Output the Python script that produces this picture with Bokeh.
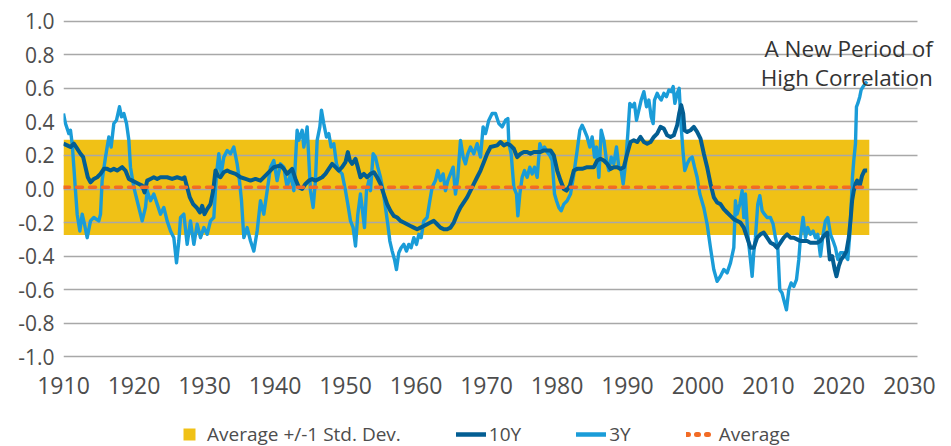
from bokeh.plotting import figure
from bokeh.layouts import column
from bokeh.models import (Range1d, FixedTicker, PrintfTickFormatter, Legend, LegendItem, Label,
                          BoxAnnotation)
from bokeh.embed import file_html
from bokeh.resources import INLINE

# ---------------- data ----------------
years_3y = [1910.00, 1910.28, 1910.76, 1910.99, 1911.23, 1911.47, 1911.70, 1911.94, 1912.32, 1912.65,
            1912.98, 1913.36, 1913.83, 1914.30, 1915.01, 1915.25, 1915.48, 1915.96, 1916.43, 1916.76,
            1917.14, 1917.52, 1917.94, 1918.23, 1918.56, 1918.94, 1919.27, 1919.50, 1919.98, 1920.45,
            1920.92, 1921.16, 1921.63, 1921.87, 1922.34, 1922.81, 1923.29, 1923.76, 1924.23, 1924.70,
            1925.18, 1925.65, 1926.03, 1926.36, 1926.60, 1927.07, 1927.54, 1928.01, 1928.49, 1928.96,
            1929.43, 1929.91, 1930.38, 1930.85, 1931.32, 1931.70, 1932.03, 1932.36, 1932.74, 1933.22,
            1933.69, 1934.16, 1934.63, 1934.96, 1935.25, 1935.58, 1936.05, 1936.53, 1937.00, 1937.47,
            1937.94, 1938.41, 1938.89, 1939.36, 1939.83, 1940.30, 1940.78, 1941.25, 1941.72, 1942.20,
            1942.67, 1943.14, 1943.38, 1943.85, 1944.09, 1944.56, 1945.03, 1945.41, 1945.74, 1945.98,
            1946.36, 1946.59, 1946.92, 1947.30, 1947.63, 1947.96, 1948.34, 1948.72, 1949.05, 1949.52,
            1950.00, 1950.33, 1950.71, 1951.08, 1951.42, 1951.75, 1952.12, 1952.36, 1952.69, 1952.98,
            1953.31, 1953.54, 1953.92, 1954.25, 1954.58, 1954.96, 1955.34, 1955.67, 1956.00, 1956.29,
            1956.62, 1956.95, 1957.23, 1957.56, 1957.89, 1958.27, 1958.65, 1958.98, 1959.31, 1959.69,
            1960.07, 1960.40, 1960.73, 1961.11, 1961.58, 1961.96, 1962.29, 1962.76, 1963.09, 1963.47,
            1963.85, 1964.18, 1964.51, 1964.89, 1965.27, 1965.60, 1965.93, 1966.31, 1966.69, 1967.02,
            1967.35, 1967.73, 1968.20, 1968.67, 1969.15, 1969.52, 1969.86, 1970.33, 1970.80, 1971.28,
            1971.75, 1972.22, 1972.70, 1973.03, 1973.17, 1973.50, 1973.88, 1974.26, 1974.45, 1974.73,
            1975.06, 1975.39, 1975.77, 1976.15, 1976.48, 1976.81, 1977.19, 1977.57, 1977.90, 1978.23,
            1978.61, 1978.99, 1979.32, 1979.65, 1979.93, 1980.26, 1980.59, 1980.97, 1981.44, 1981.92,
            1982.39, 1982.86, 1983.24, 1983.57, 1983.90, 1984.28, 1984.66, 1984.99, 1985.32, 1985.61,
            1985.94, 1986.27, 1986.65, 1987.02, 1987.36, 1987.69, 1988.06, 1988.44, 1988.77, 1989.10,
            1989.39, 1989.72, 1990.05, 1990.33, 1990.66, 1990.99, 1991.28, 1991.61, 1991.94, 1992.32,
            1992.70, 1993.03, 1993.36, 1993.64, 1993.83, 1994.21, 1994.45, 1994.78, 1995.16, 1995.53,
            1995.87, 1996.20, 1996.48, 1996.72, 1997.05, 1997.33, 1997.62, 1997.90, 1998.13, 1998.47,
            1998.84, 1999.18, 1999.51, 1999.88, 2000.26, 2000.82, 2001.30, 2001.77, 2002.24, 2002.71,
            2003.19, 2003.66, 2004.13, 2004.61, 2005.08, 2005.31, 2005.55, 2005.93, 2006.26, 2006.50,
            2006.73, 2007.06, 2007.44, 2007.68, 2007.91, 2008.15, 2008.48, 2008.77, 2009.10, 2009.43,
            2009.81, 2010.28, 2010.66, 2010.99, 2011.32, 2011.60, 2011.93, 2012.17, 2012.55, 2012.88,
            2013.21, 2013.59, 2013.97, 2014.30, 2014.53, 2014.91, 2015.24, 2015.57, 2015.95, 2016.33,
            2016.66, 2016.99, 2017.37, 2017.75, 2018.08, 2018.41, 2018.79, 2019.17, 2019.50, 2019.83,
            2020.21, 2020.59, 2020.92, 2021.25, 2021.53, 2021.72, 2021.91, 2022.10, 2022.34, 2022.48,
            2022.67, 2022.95, 2023.14, 2023.42, 2023.75, 2023.99]
corr_3y = [0.45, 0.39, 0.33, 0.35, 0.27, 0.13, -0.01, -0.15, -0.25, -0.15,
           -0.21, -0.29, -0.19, -0.17, -0.19, -0.15, 0.05, 0.19, 0.31, 0.25,
           0.39, 0.41, 0.49, 0.43, 0.45, 0.39, 0.29, 0.13, 0.01, -0.07,
           -0.15, -0.19, -0.11, -0.01, -0.07, -0.03, -0.09, -0.15, -0.11, -0.19,
           -0.25, -0.29, -0.44, -0.31, -0.17, -0.15, -0.33, -0.19, -0.33, -0.21,
           -0.29, -0.23, -0.27, -0.19, -0.17, 0.09, 0.21, 0.09, 0.19, 0.23,
           0.21, 0.25, 0.15, 0.05, -0.07, -0.29, -0.23, -0.31, -0.37, -0.25,
           -0.07, -0.15, -0.01, 0.13, 0.17, 0.05, 0.15, 0.13, 0.01, 0.09,
           -0.01, 0.35, 0.29, 0.35, 0.25, 0.37, -0.01, -0.11, 0.05, 0.29,
           0.37, 0.47, 0.39, 0.31, 0.33, 0.25, 0.27, 0.15, 0.11, 0.09,
           -0.01, -0.09, -0.19, -0.23, -0.34, -0.15, -0.03, -0.11, -0.23, -0.01,
           0.05, -0.01, 0.21, 0.19, 0.13, 0.07, -0.01, -0.11, -0.21, -0.31,
           -0.37, -0.42, -0.48, -0.38, -0.35, -0.33, -0.37, -0.33, -0.35, -0.29,
           -0.33, -0.27, -0.29, -0.19, -0.17, -0.07, 0.01, 0.05, 0.11, 0.05,
           0.09, -0.01, 0.05, 0.09, 0.13, -0.03, 0.07, 0.29, 0.19, 0.15,
           0.21, 0.25, 0.21, 0.27, 0.19, 0.37, 0.33, 0.41, 0.45, 0.45,
           0.39, 0.37, 0.41, 0.42, 0.27, 0.21, 0.01, -0.03, -0.16, -0.03,
           0.07, 0.11, 0.07, 0.13, 0.09, 0.13, 0.07, 0.27, 0.23, 0.25,
           0.22, 0.20, 0.17, -0.03, -0.07, -0.11, -0.13, -0.09, -0.07, -0.03,
           0.09, 0.23, 0.35, 0.38, 0.35, 0.31, 0.25, 0.31, 0.19, 0.25,
           0.07, 0.35, 0.29, 0.17, 0.11, 0.19, 0.15, 0.25, 0.13, 0.11,
           0.03, 0.15, 0.33, 0.51, 0.49, 0.51, 0.41, 0.47, 0.53, 0.58,
           0.49, 0.53, 0.43, 0.39, 0.53, 0.57, 0.55, 0.53, 0.57, 0.55,
           0.59, 0.58, 0.61, 0.51, 0.57, 0.60, 0.37, 0.21, 0.11, 0.15,
           0.18, 0.19, 0.13, 0.07, -0.03, -0.11, -0.21, -0.35, -0.48, -0.55,
           -0.52, -0.48, -0.50, -0.44, -0.35, -0.07, -0.15, -0.09, -0.01, -0.17,
           -0.03, -0.27, -0.42, -0.52, -0.38, -0.29, -0.09, -0.04, -0.13, -0.15,
           -0.17, -0.17, -0.21, -0.29, -0.35, -0.60, -0.62, -0.66, -0.72, -0.60,
           -0.56, -0.58, -0.54, -0.42, -0.29, -0.17, -0.29, -0.23, -0.27, -0.25,
           -0.29, -0.27, -0.40, -0.27, -0.19, -0.17, -0.27, -0.31, -0.35, -0.42,
           -0.38, -0.38, -0.40, -0.42, -0.27, -0.11, 0.07, 0.17, 0.27, 0.49,
           0.51, 0.55, 0.59, 0.61, 0.63, 0.64]

years_10y = [1910.00, 1910.52, 1910.99, 1911.47, 1911.94, 1912.41, 1912.79, 1913.12, 1913.45, 1913.83,
             1914.30, 1914.78, 1915.25, 1915.72, 1916.19, 1916.67, 1917.14, 1917.61, 1918.32, 1918.79,
             1919.27, 1919.74, 1920.21, 1920.69, 1921.16, 1921.49, 1921.87, 1922.34, 1922.81, 1923.29,
             1923.76, 1924.23, 1924.70, 1925.41, 1926.12, 1926.83, 1927.16, 1927.54, 1927.92, 1928.39,
             1928.87, 1929.34, 1929.67, 1930.00, 1930.38, 1930.85, 1931.23, 1931.56, 1931.89, 1932.27,
             1932.74, 1933.22, 1933.69, 1934.40, 1935.11, 1935.82, 1936.53, 1937.23, 1937.94, 1938.89,
             1939.83, 1940.78, 1941.25, 1941.72, 1942.43, 1942.90, 1943.38, 1943.85, 1944.32, 1944.80,
             1945.27, 1945.74, 1946.21, 1946.69, 1947.16, 1947.63, 1948.11, 1948.58, 1949.05, 1949.52,
             1950.00, 1950.33, 1950.61, 1950.94, 1951.42, 1951.75, 1952.12, 1952.60, 1953.07, 1953.54,
             1954.02, 1954.49, 1954.96, 1955.43, 1955.91, 1956.38, 1956.85, 1957.33, 1957.80, 1958.27,
             1958.74, 1959.22, 1959.69, 1960.16, 1960.63, 1961.11, 1961.58, 1962.05, 1962.53, 1963.00,
             1963.47, 1963.94, 1964.42, 1964.89, 1965.36, 1965.84, 1966.31, 1966.78, 1967.25, 1967.73,
             1968.20, 1968.67, 1969.15, 1969.62, 1970.09, 1970.57, 1971.52, 1971.99, 1972.46, 1972.93,
             1973.41, 1973.88, 1974.35, 1974.83, 1975.30, 1975.77, 1976.24, 1976.72, 1977.19, 1977.66,
             1978.13, 1978.61, 1979.08, 1979.55, 1980.03, 1980.50, 1980.97, 1981.35, 1981.82, 1982.39,
             1982.86, 1983.57, 1984.28, 1984.75, 1985.23, 1985.70, 1986.17, 1986.65, 1987.12, 1987.59,
             1988.06, 1988.54, 1989.01, 1989.48, 1989.96, 1990.43, 1990.90, 1991.37, 1991.85, 1992.32,
             1992.79, 1993.26, 1993.74, 1994.21, 1994.68, 1995.16, 1995.63, 1996.10, 1996.57, 1997.05,
             1997.33, 1997.62, 1997.90, 1998.09, 1998.47, 1998.94, 1999.41, 1999.88, 2000.36, 2000.83,
             2001.30, 2001.78, 2002.25, 2002.71, 2003.19, 2003.66, 2004.13, 2004.61, 2005.08, 2005.55,
             2006.02, 2006.50, 2006.97, 2007.44, 2007.91, 2008.39, 2008.86, 2009.33, 2009.81, 2010.28,
             2010.75, 2011.22, 2011.70, 2012.17, 2012.64, 2013.12, 2013.59, 2014.06, 2014.53, 2015.01,
             2015.48, 2015.95, 2016.43, 2016.90, 2017.37, 2017.84, 2018.32, 2018.70, 2019.03, 2019.40,
             2019.64, 2019.97, 2020.30, 2020.68, 2021.06, 2021.39, 2021.63, 2021.86, 2022.10, 2022.34,
             2022.57, 2022.95, 2023.28, 2023.61, 2023.99]
corr_10y = [0.27, 0.26, 0.25, 0.27, 0.24, 0.21, 0.19, 0.13, 0.07, 0.04,
            0.06, 0.07, 0.09, 0.12, 0.12, 0.11, 0.12, 0.11, 0.13, 0.11,
            0.06, 0.05, 0.04, 0.03, 0.02, -0.02, 0.05, 0.06, 0.07, 0.06,
            0.07, 0.07, 0.07, 0.06, 0.07, 0.06, 0.07, 0.01, -0.05, -0.09,
            -0.11, -0.14, -0.10, -0.15, -0.12, -0.09, -0.01, 0.11, 0.08, 0.07,
            0.10, 0.11, 0.10, 0.09, 0.07, 0.06, 0.05, 0.06, 0.05, 0.09,
            0.13, 0.14, 0.12, 0.09, 0.12, 0.06, 0.01, 0.00, 0.03, 0.05,
            0.06, 0.05, 0.06, 0.07, 0.09, 0.12, 0.15, 0.13, 0.11, 0.13,
            0.16, 0.22, 0.17, 0.15, 0.18, 0.13, 0.07, 0.09, 0.07, 0.09,
            0.10, 0.07, 0.03, -0.03, -0.09, -0.13, -0.16, -0.17, -0.19, -0.20,
            -0.21, -0.22, -0.23, -0.24, -0.23, -0.22, -0.21, -0.20, -0.19, -0.21,
            -0.23, -0.24, -0.24, -0.23, -0.20, -0.15, -0.11, -0.08, -0.05, -0.01,
            0.03, 0.07, 0.11, 0.16, 0.21, 0.25, 0.26, 0.28, 0.26, 0.27,
            0.26, 0.24, 0.19, 0.21, 0.22, 0.22, 0.21, 0.22, 0.22, 0.22,
            0.23, 0.23, 0.23, 0.20, 0.11, 0.05, 0.00, -0.01, 0.02, 0.11,
            0.12, 0.12, 0.13, 0.13, 0.13, 0.17, 0.18, 0.17, 0.15, 0.12,
            0.13, 0.13, 0.12, 0.13, 0.21, 0.28, 0.29, 0.28, 0.31, 0.28,
            0.27, 0.28, 0.31, 0.33, 0.37, 0.36, 0.32, 0.31, 0.32, 0.38,
            0.45, 0.50, 0.45, 0.35, 0.34, 0.35, 0.37, 0.34, 0.30, 0.21,
            0.13, 0.03, -0.05, -0.08, -0.09, -0.12, -0.14, -0.16, -0.18, -0.19,
            -0.20, -0.23, -0.29, -0.35, -0.35, -0.29, -0.27, -0.26, -0.29, -0.32,
            -0.33, -0.35, -0.32, -0.29, -0.27, -0.29, -0.29, -0.30, -0.31, -0.31,
            -0.31, -0.32, -0.32, -0.32, -0.31, -0.28, -0.26, -0.42, -0.40, -0.48,
            -0.52, -0.46, -0.42, -0.40, -0.37, -0.29, -0.19, -0.07, -0.01, 0.03,
            0.05, 0.02, 0.08, 0.11, 0.11]

band_years = [1910.0, 2024.3]
band_lower = -0.274
band_upper = 0.294
average_value = 0.01

y_ticks = [-1.0, -0.8, -0.6, -0.4, -0.2, 0.0, 0.2, 0.4, 0.6, 0.8, 1.0]
x_ticks = [1910, 1920, 1930, 1940, 1950, 1960, 1970, 1980, 1990, 2000, 2010, 2020, 2030]
grid_end_year = 2031.13

annotation_line1 = "A New Period of"
annotation_line2 = "High Correlation"
annotation_year = 2033.3
annotation_y1 = 0.836
annotation_y2 = 0.663

legend_labels = ["Average +/-1 Std. Dev.", "10Y", "3Y", "Average"]

# ---------------- styling ----------------
FONT = "Open Sans"
C_BAND = "#F0C116"
C_10Y = "#035E93"
C_3Y = "#1A9CD8"
C_AVG = "#F26B25"
C_GRID = "#A8A8A8"
C_TEXT = "#4D4D4D"

p = figure(width=951, height=410, output_backend="svg", toolbar_location=None,
           x_range=Range1d(1910, 2035.96), y_range=Range1d(-1.01, 1.01),
           min_border_left=63, min_border_right=0, min_border_top=19, min_border_bottom=52)
p.outline_line_color = None
p.background_fill_color = "white"
p.border_fill_color = "white"

band_r = p.varea(x=band_years, y1=[band_lower, band_lower], y2=[band_upper, band_upper],
                 fill_color=C_BAND, level="image")
r3 = p.line(years_3y, corr_3y, line_color=C_3Y, line_width=3.4, line_join="round")
r10 = p.line(years_10y, corr_10y, line_color=C_10Y, line_width=4, line_join="round")
ravg = p.line(band_years, [average_value, average_value], line_color=C_AVG, line_width=3.5,
              line_dash="6 7", line_cap="round")

p.xgrid.visible = False
p.ygrid.ticker = FixedTicker(ticks=y_ticks)
p.ygrid.grid_line_color = C_GRID
p.ygrid.grid_line_width = 1.5
try:
    p.ygrid.cross_bounds = (x_ticks[0], grid_end_year)
except Exception:
    p.add_layout(BoxAnnotation(left=grid_end_year, fill_color="white", fill_alpha=1.0,
                               line_color=None, level="underlay"))

p.yaxis.ticker = FixedTicker(ticks=y_ticks)
p.yaxis.formatter = PrintfTickFormatter(format="%.1f")
p.xaxis.ticker = FixedTicker(ticks=x_ticks)
p.xaxis.formatter = PrintfTickFormatter(format="%d")
for ax in (p.xaxis, p.yaxis):
    ax.axis_line_color = None
    ax.major_tick_line_color = None
    ax.minor_tick_line_color = None
    ax.major_tick_out = 0
    ax.major_tick_in = 0
    ax.major_label_text_font = FONT
    ax.major_label_text_color = C_TEXT
p.yaxis.major_label_text_font_size = "21px"
p.xaxis.major_label_text_font_size = "23px"
p.yaxis.major_label_standoff = 9
p.xaxis.major_label_standoff = 18

for txt, yy in ((annotation_line1, annotation_y1), (annotation_line2, annotation_y2)):
    p.add_layout(Label(x=annotation_year, y=yy, text=txt, text_align="right",
                       text_baseline="alphabetic", text_font=FONT, text_font_size="22.5px",
                       text_color="#333333"))

# ---------------- legend strip (its swatch renderers sit outside its visible range) ----------------
lg = figure(width=951, height=36, output_backend="svg", toolbar_location=None,
            x_range=Range1d(0, 1), y_range=Range1d(0, 1), x_axis_type=None, y_axis_type=None,
            min_border=0)
lg.outline_line_color = None
lg.grid.visible = False
k_band = lg.scatter(x=band_years, y=[band_lower, band_upper], marker="square",
                    fill_color=C_BAND, line_color=None)
k_10y = lg.line(years_10y, corr_10y, line_color=C_10Y, line_width=4.5, line_cap="round")
k_3y = lg.line(years_3y, corr_3y, line_color=C_3Y, line_width=4.5, line_cap="round")
k_avg = lg.line(band_years, [average_value, average_value], line_color=C_AVG, line_width=5,
                line_dash="2 8", line_cap="round")

legend = Legend(items=[LegendItem(label=legend_labels[0], renderers=[k_band]),
                       LegendItem(label=legend_labels[1], renderers=[k_10y]),
                       LegendItem(label=legend_labels[2], renderers=[k_3y]),
                       LegendItem(label=legend_labels[3], renderers=[k_avg])],
                location=(111, -3), orientation="horizontal",
                glyph_width=30, glyph_height=30, label_standoff=3, spacing=55,
                padding=0, margin=0, border_line_color=None, background_fill_alpha=0,
                label_text_font=FONT, label_text_font_size="19px", label_text_color=C_TEXT)
lg.add_layout(legend)

layout = column(p, lg, spacing=0)
open("out.html", "w").write(file_html(layout, INLINE))
